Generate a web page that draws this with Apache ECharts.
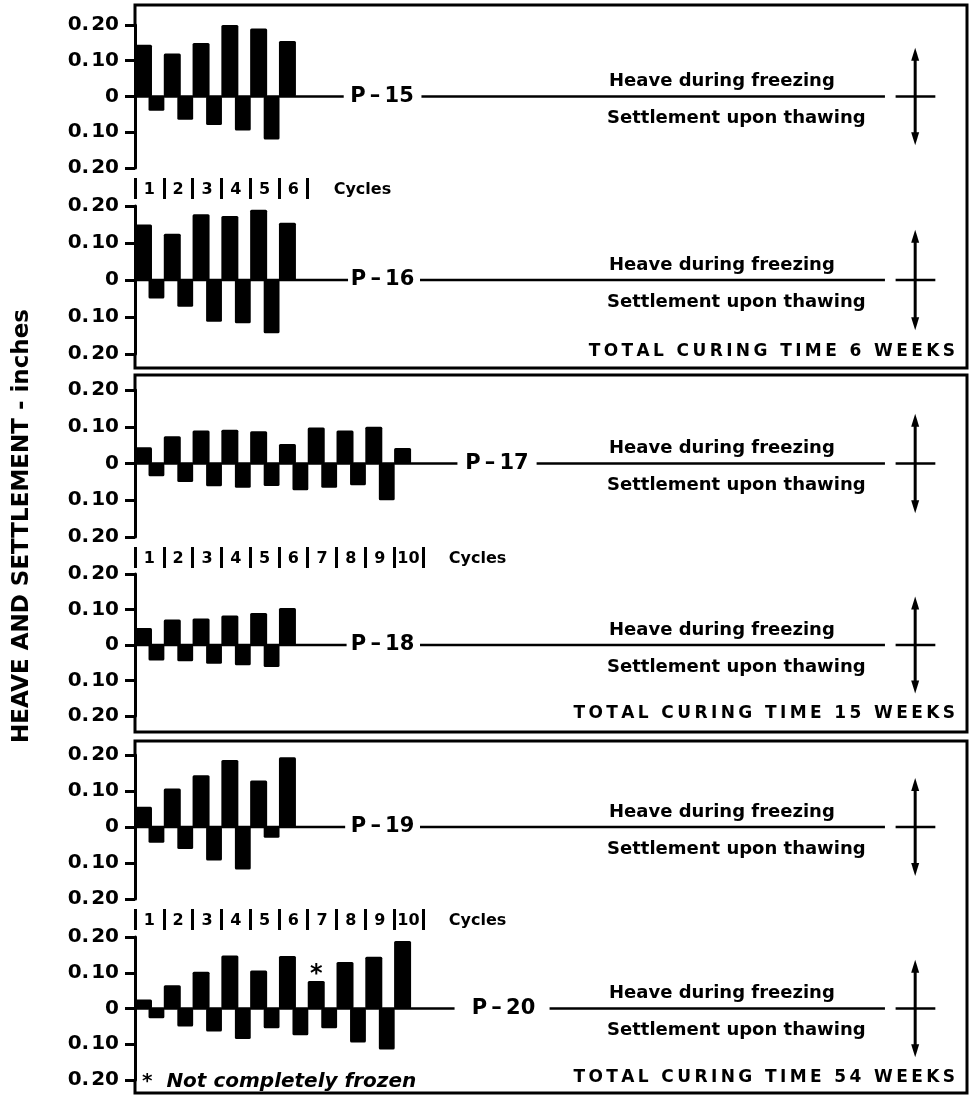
<!DOCTYPE html>
<html><head><meta charset="utf-8">
<script src="https://cdn.jsdelivr.net/npm/echarts@6/dist/echarts.min.js"></script>
<style>html,body{margin:0;padding:0;background:#fff}#c{width:975px;height:1095px}</style>
</head><body><div id="c"></div><script>
// ---------------- DATA ----------------
const panelNames = ['P-15', 'P-16', 'P-17', 'P-18', 'P-19', 'P-20'];
const heaveP15 = [0.145, 0.12, 0.15, 0.20, 0.19, 0.155];
const settleP15 = [0.04, 0.065, 0.08, 0.095, 0.12];
const heaveP16 = [0.15, 0.125, 0.178, 0.173, 0.19, 0.155];
const settleP16 = [0.05, 0.072, 0.113, 0.117, 0.144];
const heaveP17 = [0.044, 0.074, 0.09, 0.092, 0.088, 0.053, 0.098, 0.09, 0.10, 0.042];
const settleP17 = [0.035, 0.05, 0.062, 0.066, 0.061, 0.073, 0.066, 0.059, 0.10];
const heaveP18 = [0.048, 0.072, 0.075, 0.083, 0.09, 0.104];
const settleP18 = [0.044, 0.046, 0.053, 0.057, 0.062];
const heaveP19 = [0.056, 0.107, 0.144, 0.186, 0.129, 0.194];
const settleP19 = [0.044, 0.061, 0.093, 0.118, 0.03];
const heaveP20 = [0.025, 0.065, 0.103, 0.148, 0.106, 0.147, 0.077, 0.13, 0.145, 0.189];
const settleP20 = [0.027, 0.05, 0.064, 0.085, 0.055, 0.075, 0.055, 0.095, 0.115];
const notFrozenP20 = [0, 0, 0, 0, 0, 0, 1, 0, 0, 0];
const cycleRowCounts = [6, 10, 10];          // cycle numbers shown under P-15, P-17, P-19
const curingTexts = ['TOTAL CURING TIME 6 WEEKS', 'TOTAL CURING TIME 15 WEEKS', 'TOTAL CURING TIME 54 WEEKS'];
const heaveText = 'Heave during freezing';
const settleText = 'Settlement upon thawing';
const yTitle = 'HEAVE AND SETTLEMENT - inches';
const footnote = '*  Not completely frozen';

const heaves = [heaveP15, heaveP16, heaveP17, heaveP18, heaveP19, heaveP20];
const settles = [settleP15, settleP16, settleP17, settleP18, settleP19, settleP20];
const flags = [null, null, null, null, null, notFrozenP20];

// ---------------- LAYOUT ----------------
const FONT = 'DejaVu Sans';
const L = 135, R = 967, W = R - L;
const XMAX = 28.9;
const CW = W / XMAX;
const layout = [
  {top: 25,  bottom: 168, segL: 7.25, lab: 8.58, segR: 9.95, cycRow: 0},
  {top: 206, bottom: 354, segL: 7.4,  lab: 8.6,  segR: 9.9},
  {top: 390, bottom: 537, segL: 11.2, lab: 12.57, segR: 13.95, cycRow: 1},
  {top: 574, bottom: 716, segL: 7.35, lab: 8.6,  segR: 9.9},
  {top: 755, bottom: 899, segL: 7.3,  lab: 8.6,  segR: 9.9, cycRow: 2},
  {top: 937, bottom: 1080, segL: 11.1, lab: 12.8, segR: 14.4}
];
const boxes = [
  {top: 5, bottom: 368, p1: 0, p2: 1},
  {top: 375, bottom: 732, p1: 2, p2: 3},
  {top: 741, bottom: 1093, p1: 4, p2: 5}
];
const spaced = s => s.split('').join('\u2009');

const grids = [], xAxes = [], yAxes = [], series = [], graphics = [];
layout.forEach((g, i) => {
  grids.push({left: L, width: W, top: g.top, height: g.bottom - g.top});
  const zeroY = (g.top + g.bottom) / 2;
  if (g.cycRow !== undefined) {
    const N = cycleRowCounts[g.cycRow];
    const ticks = [], labs = [];
    for (let k = 0; k <= N; k++) ticks.push(k);
    for (let k = 1; k <= N; k++) labs.push(k - 0.5);
    labs.push(N + 1.9);
    xAxes.push({gridIndex: i, type: 'value', min: 0, max: XMAX, position: 'bottom', offset: 10,
      axisLine: {show: false, onZero: false}, splitLine: {show: false},
      axisTick: {show: true, customValues: ticks, length: 21, lineStyle: {color: '#000', width: 3}},
      axisLabel: {show: true, customValues: labs, margin: 4, color: '#000', fontFamily: FONT, fontWeight: 'bold', fontSize: 16,
        formatter: v => v > N ? 'Cycles' : String(Math.round(v + 0.5))}
    });
  } else {
    xAxes.push({gridIndex: i, type: 'value', min: 0, max: XMAX, show: false, axisLine: {onZero: false}});
  }
  yAxes.push({gridIndex: i, type: 'value', min: -0.2, max: 0.2, interval: 0.1,
    axisLine: {show: true, onZero: false, lineStyle: {color: '#000', width: 3}},
    axisTick: {show: true, length: 10, lineStyle: {color: '#000', width: 3}},
    splitLine: {show: false},
    axisLabel: {color: '#000', fontFamily: FONT, fontWeight: 'bold', fontSize: 20, margin: 16,
      formatter: v => Math.abs(v) < 1e-9 ? '0' : Math.abs(v).toFixed(2).replace('.', '.\u200A')}
  });
  const lineStyle = {color: '#000', width: 2.5};
  const seg = (data) => ({type: 'line', xAxisIndex: i, yAxisIndex: i, data, symbol: 'none', lineStyle, silent: true, animation: false, z: 1});
  series.push(seg([[0, 0], [g.segL, 0]]));
  series.push(seg([[g.segR, 0], [26.05, 0]]));
  series.push(seg([[26.42, 0], [27.8, 0]]));
  series.push({type: 'line', xAxisIndex: i, yAxisIndex: i, silent: true, animation: false, z: 1,
    lineStyle: {color: '#000', width: 3}, symbolSize: [8, 13], itemStyle: {color: '#000'},
    data: [{value: [27.1, -0.118], symbol: 'triangle', symbolRotate: 180}, {value: [27.1, 0.118], symbol: 'triangle', symbolRotate: 0}]
  });
  // bars
  const data = [];
  heaves[i].forEach((v, k) => data.push([k + 1, v, 0, flags[i] ? flags[i][k] : 0]));
  settles[i].forEach((v, k) => data.push([k + 1, v, 1, 0]));
  series.push({type: 'custom', xAxisIndex: i, yAxisIndex: i, data, animation: false, z: 3,
    renderItem: (params, api) => {
      const k = api.value(0), v = api.value(1), kind = api.value(2);
      let x0, x1, y;
      if (kind === 0) { x0 = k - 1; x1 = k - 0.41; y = v; } else { x0 = k - 0.53; x1 = k + 0.02; y = -v; }
      const p0 = api.coord([x0, 0]), p1 = api.coord([x1, y]);
      const children = [{type: 'rect', shape: {x: p0[0], y: Math.min(p0[1], p1[1]), width: p1[0] - p0[0], height: Math.abs(p1[1] - p0[1]), r: 1.5}, style: {fill: '#000'}}];
      if (api.value(3) === 1) {
        children.push({type: 'text', style: {text: '*', x: (p0[0] + p1[0]) / 2, y: p1[1] + 6, align: 'center', verticalAlign: 'bottom', fill: '#000', font: 'bold 24px ' + FONT}});
      }
      return {type: 'group', children};
    }
  });
  // texts
  graphics.push({type: 'text', x: L + g.lab * CW, y: zeroY, style: {text: panelNames[i].replace('-', '\u2009\u2013\u2009'), align: 'center', verticalAlign: 'middle', fill: '#000', font: 'bold 21px ' + FONT}});
  graphics.push({type: 'text', x: 609, y: zeroY - 15, style: {text: heaveText, align: 'left', verticalAlign: 'middle', fill: '#000', font: 'bold 18px ' + FONT}});
  graphics.push({type: 'text', x: 607, y: zeroY + 22, style: {text: settleText, align: 'left', verticalAlign: 'middle', fill: '#000', font: 'bold 18px ' + FONT}});
});
boxes.forEach((b, j) => {
  graphics.push({type: 'polyline', shape: {points: [[L, layout[b.p1].top], [L, b.top], [R, b.top], [R, b.bottom], [L, b.bottom], [L, layout[b.p2].bottom]]},
    style: {stroke: '#000', lineWidth: 3, fill: null}});
  graphics.push({type: 'text', x: 955, y: layout[b.p2].bottom - 2, style: {text: spaced(curingTexts[j]), align: 'right', verticalAlign: 'middle', fill: '#000', font: 'bold 17px ' + FONT}});
});
graphics.push({type: 'text', x: 22, y: 526, rotation: Math.PI / 2, style: {text: yTitle, align: 'center', verticalAlign: 'middle', fill: '#000', font: 'bold 23px ' + FONT}});
graphics.push({type: 'text', x: 142, y: 1082, style: {text: footnote, align: 'left', verticalAlign: 'middle', fill: '#000', font: 'italic bold 20px ' + FONT}});

const chart = echarts.init(document.getElementById('c'), null, {renderer: 'canvas'});
chart.setOption({animation: false, backgroundColor: '#fff', grid: grids, xAxis: xAxes, yAxis: yAxes, series, graphic: graphics});
</script></body></html>
